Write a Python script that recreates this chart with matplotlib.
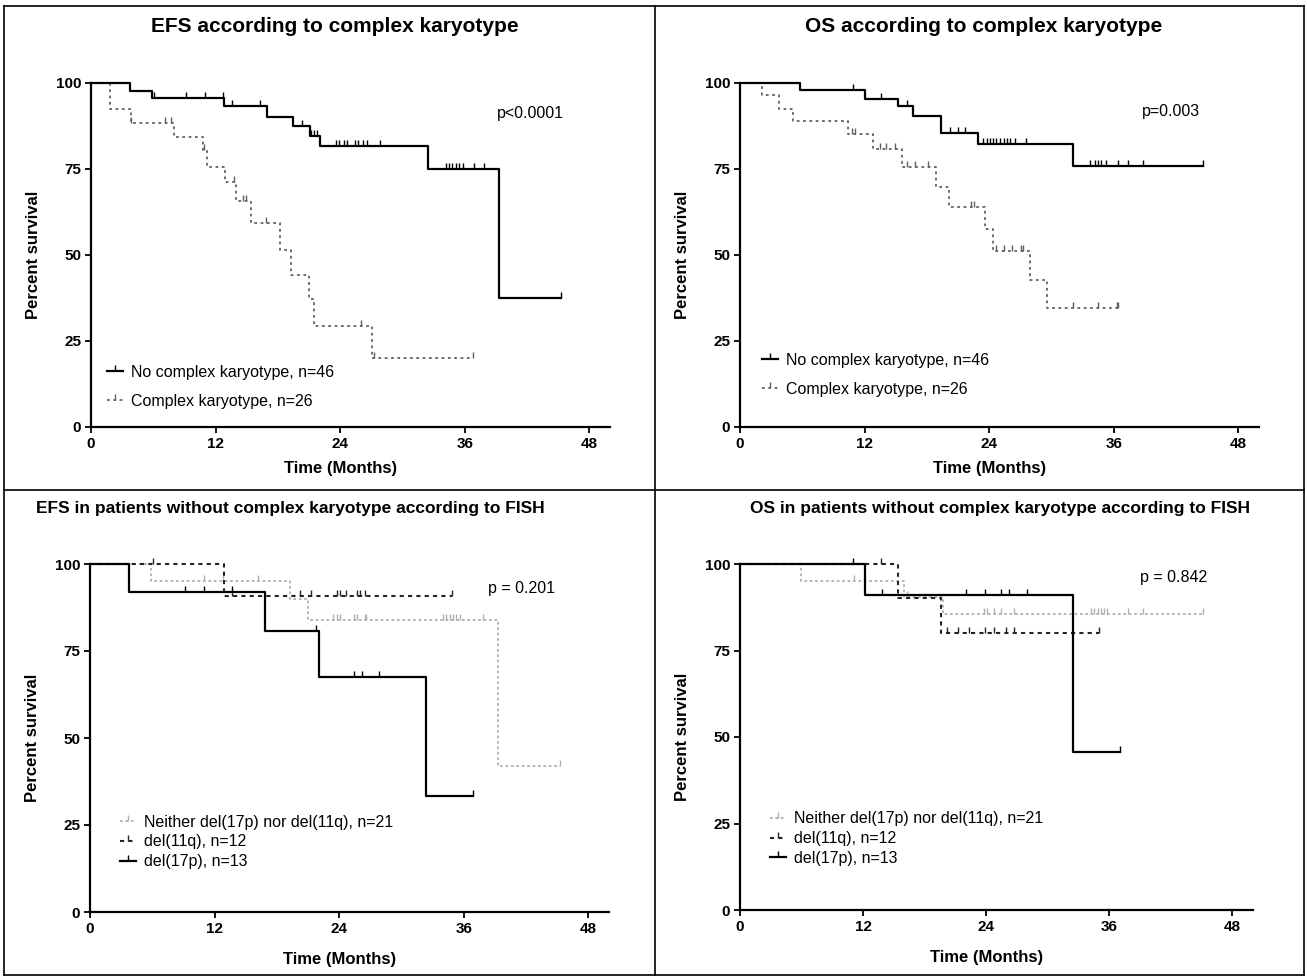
import numpy as np
import matplotlib
matplotlib.use("Agg")
from matplotlib import pyplot as plt
from matplotlib.lines import Line2D

plt.rcParams['font.family'] = ['Liberation Sans', 'DejaVu Sans']

# ---- EFS according to complex karyotype ----
nock_efs_t = [0, 3.8, 5.9, 12.8, 17.0, 19.5, 21.1, 22.1, 32.5, 39.3]
nock_efs_s = [100, 97.8, 95.6, 93.3, 90.2, 87.4, 84.6, 81.7, 74.9, 37.5]
nock_efs_end = 45.3
nock_efs_c = [6.1, 9.2, 11.0, 12.7, 13.6, 16.3, 20.3, 21.2, 21.5, 21.8, 23.6, 23.9, 24.4,
              24.7, 25.4, 25.7, 26.2, 26.6, 27.8, 34.2, 34.5, 34.8, 35.2, 35.5, 35.8,
              36.9, 37.9, 45.3]
ck_efs_t = [0, 1.8, 3.85, 8.0, 10.8, 11.2, 12.9, 14.0, 15.4, 18.2, 19.3, 21.0, 21.5, 27.1]
ck_efs_s = [100, 92.3, 88.5, 84.3, 80.4, 75.6, 71.2, 65.7, 59.3, 51.4, 44.3, 37.3, 29.5, 20.2]
ck_efs_end = 36.8
ck_efs_c = [3.9, 7.1, 7.7, 10.9, 13.8, 14.6, 14.9, 16.9, 26.0, 27.3, 36.8]

# ---- OS according to complex karyotype ----
nock_os_t = [0, 5.8, 12.0, 15.2, 16.7, 19.4, 22.9, 32.1]
nock_os_s = [100, 97.9, 95.4, 93.2, 90.4, 85.6, 82.4, 75.8]
nock_os_end = 44.6
nock_os_c = [10.9, 13.6, 16.1, 20.2, 21.0, 21.7, 23.4, 23.8, 24.1, 24.4, 24.7, 25.0, 25.4,
             25.7, 26.0, 26.5, 27.6, 33.7, 34.2, 34.5, 34.8, 35.3, 36.4, 37.4, 38.8, 44.6]
ck_os_t = [0, 2.1, 3.8, 5.1, 10.4, 12.8, 15.6, 18.9, 20.1, 23.6, 24.4, 27.9, 29.6]
ck_os_s = [100, 96.4, 92.5, 89.0, 85.1, 80.9, 75.6, 69.8, 64.0, 57.7, 51.2, 42.8, 34.6]
ck_os_end = 36.4
ck_os_c = [10.8, 11.1, 13.5, 14.1, 14.9, 16.1, 16.9, 18.1, 22.3, 22.5, 24.7, 25.4, 26.2,
           27.1, 27.3, 32.1, 34.5, 36.3, 36.4]

# ---- EFS by FISH ----
nei_efs_t = [0, 5.9, 19.3, 21.0, 39.3]
nei_efs_s = [100, 95.0, 89.8, 84.0, 41.9]
nei_efs_end = 45.3
nei_efs_c = [11.0, 12.8, 16.2, 23.4, 23.8, 24.1, 25.4, 25.7, 26.5, 26.6, 34.0, 34.3, 34.7,
             35.0, 35.3, 35.6, 37.9, 45.3]
d11_efs_t = [0, 12.9]
d11_efs_s = [100, 90.9]
d11_efs_end = 34.9
d11_efs_c = [6.1, 13.7, 20.2, 21.3, 23.8, 24.1, 24.7, 25.7, 26.0, 26.5, 34.9]
d17_efs_t = [0, 3.8, 16.9, 22.1, 32.4]
d17_efs_s = [100, 92.0, 80.8, 67.4, 33.4]
d17_efs_end = 36.9
d17_efs_c = [9.2, 11.0, 13.7, 21.8, 25.4, 26.2, 27.8, 36.9]

# ---- OS by FISH ----
nei_os_t = [0, 5.9, 16.0, 19.8]
nei_os_s = [100, 95.2, 90.4, 85.6]
nei_os_end = 45.1
nei_os_c = [11.1, 16.3, 23.8, 24.1, 24.8, 25.4, 26.7, 34.2, 34.5, 34.9, 35.2, 35.5, 35.8,
            37.8, 39.3, 45.1]
d11_os_t = [0, 15.4, 19.6]
d11_os_s = [100, 90.2, 80.0]
d11_os_end = 35.0
d11_os_c = [13.7, 20.2, 21.2, 22.3, 23.9, 24.8, 25.9, 26.7, 35.0]
d17_os_t = [0, 12.2, 32.5]
d17_os_s = [100, 91.1, 45.8]
d17_os_end = 37.0
d17_os_c = [11.0, 13.8, 22.0, 23.9, 25.4, 26.2, 28.0, 37.0]

leg_ck = ['No complex karyotype, n=46', 'Complex karyotype, n=26']
leg_fish = ['Neither del(17p) nor del(11q), n=21', 'del(11q), n=12', 'del(17p), n=13']

W, H = 1307, 977
fig = plt.figure(figsize=(W / 100, H / 100), dpi=100)

TICK = [(0, 0), (0, 1)]  # censor tick going upward

solid = dict(color='black', lw=1.6, ls='-')
ckstyle = dict(color='#606060', lw=1.3, ls=(0, (1.5, 2)))
d11style = dict(color='#252525', lw=1.5, ls=(0, (2, 2)))
neistyle = dict(color='#b0b0b0', lw=1.3, ls=(0, (1.5, 1.5)))


def rect(l, r, t, b):
    return [l / W, 1 - b / H, (r - l) / W, (b - t) / H]


def km(ax, t, s, end, cens, st):
    tt = list(t) + [end]
    ss = list(s) + [s[-1]]
    ax.step(tt, ss, where='post', clip_on=False, **st)
    idx = np.searchsorted(t, cens, side='right') - 1
    cy = np.array(s)[idx]
    ax.plot(cens, cy, ls='none', marker=TICK, ms=9, mew=1.0, color=st['color'],
            clip_on=False)


def setup(ax, xlab_y):
    ax.set_xlim(0, 50)
    ax.set_ylim(0, 100)
    ax.set_xticks([0, 12, 24, 36, 48])
    ax.set_yticks([0, 25, 50, 75, 100])
    for sp in ['top', 'right']:
        ax.spines[sp].set_visible(False)
    for sp in ['left', 'bottom']:
        ax.spines[sp].set_linewidth(1.6)
    ax.tick_params(direction='out', length=4, width=1.3, labelsize=11, pad=3)
    for lab in ax.get_xticklabels() + ax.get_yticklabels():
        lab.set_fontweight('bold')
    ax.set_xlabel('Time (Months)', fontsize=12, fontweight='bold')
    ax.set_ylabel('Percent survival', fontsize=12, fontweight='bold')
    ax.xaxis.set_label_coords(0.48, xlab_y)
    ax.yaxis.set_label_coords(-0.097, 0.5)


def legend(ax, styles, labels, anchor, spacing):
    hs = [Line2D([], [], marker=TICK, ms=9, mew=1.0, **st) for st in styles]
    ax.legend(hs, labels, loc='upper left', bbox_to_anchor=anchor, frameon=False,
              fontsize=11.5, handlelength=1.0, handletextpad=0.5, labelspacing=spacing,
              borderpad=0, borderaxespad=0, numpoints=1)


# panel 1
ax1 = fig.add_axes(rect(91, 610, 83, 427))
km(ax1, ck_efs_t, ck_efs_s, ck_efs_end, ck_efs_c, ckstyle)
km(ax1, nock_efs_t, nock_efs_s, nock_efs_end, nock_efs_c, solid)
setup(ax1, -0.10)
ax1.text(0.782, 0.91, 'p<0.0001', transform=ax1.transAxes, fontsize=11.5, va='center')
legend(ax1, [solid, ckstyle], leg_ck, (0.031, 0.18), 0.85)

# panel 2
ax2 = fig.add_axes(rect(740, 1259, 83, 427))
km(ax2, ck_os_t, ck_os_s, ck_os_end, ck_os_c, ckstyle)
km(ax2, nock_os_t, nock_os_s, nock_os_end, nock_os_c, solid)
setup(ax2, -0.10)
ax2.text(0.775, 0.916, 'p=0.003', transform=ax2.transAxes, fontsize=11.5, va='center')
legend(ax2, [solid, ckstyle], leg_ck, (0.042, 0.215), 0.85)

# panel 3
ax3 = fig.add_axes(rect(90, 609, 564, 912))
km(ax3, nei_efs_t, nei_efs_s, nei_efs_end, nei_efs_c, neistyle)
km(ax3, d11_efs_t, d11_efs_s, d11_efs_end, d11_efs_c, d11style)
km(ax3, d17_efs_t, d17_efs_s, d17_efs_end, d17_efs_c, solid)
setup(ax3, -0.115)
ax3.text(0.767, 0.931, 'p = 0.201', transform=ax3.transAxes, fontsize=11.5, va='center')
legend(ax3, [neistyle, d11style, solid], leg_fish, (0.058, 0.28), 0.3)

# panel 4
ax4 = fig.add_axes(rect(740, 1253, 564, 910))
km(ax4, nei_os_t, nei_os_s, nei_os_end, nei_os_c, neistyle)
km(ax4, d11_os_t, d11_os_s, d11_os_end, d11_os_c, d11style)
km(ax4, d17_os_t, d17_os_s, d17_os_end, d17_os_c, solid)
setup(ax4, -0.115)
ax4.text(0.78, 0.96, 'p = 0.842', transform=ax4.transAxes, fontsize=11.5, va='center')
legend(ax4, [neistyle, d11style, solid], leg_fish, (0.058, 0.285), 0.3)

# titles
fig.text(335 / W, 1 - 27 / H, 'EFS according to complex karyotype', ha='center',
         va='center', fontsize=15, fontweight='bold')
fig.text(984 / W, 1 - 27 / H, 'OS according to complex karyotype', ha='center',
         va='center', fontsize=15, fontweight='bold')
fig.text(290 / W, 1 - 508 / H, 'EFS in patients without complex karyotype according to FISH',
         ha='center', va='center', fontsize=12.5, fontweight='bold')
fig.text(1000 / W, 1 - 508 / H, 'OS in patients without complex karyotype according to FISH',
         ha='center', va='center', fontsize=12.5, fontweight='bold')

# panel frame lines
for xs, ys in [([4, 1304], [6, 6]), ([4, 1304], [975, 975]), ([4, 4], [6, 975]),
               ([1304, 1304], [6, 975]), ([655, 655], [6, 975]), ([4, 1304], [490, 490])]:
    fig.add_artist(Line2D([x / W for x in xs], [1 - y / H for y in ys],
                          color='black', lw=1.2))

fig.savefig('out.png', dpi=100)
